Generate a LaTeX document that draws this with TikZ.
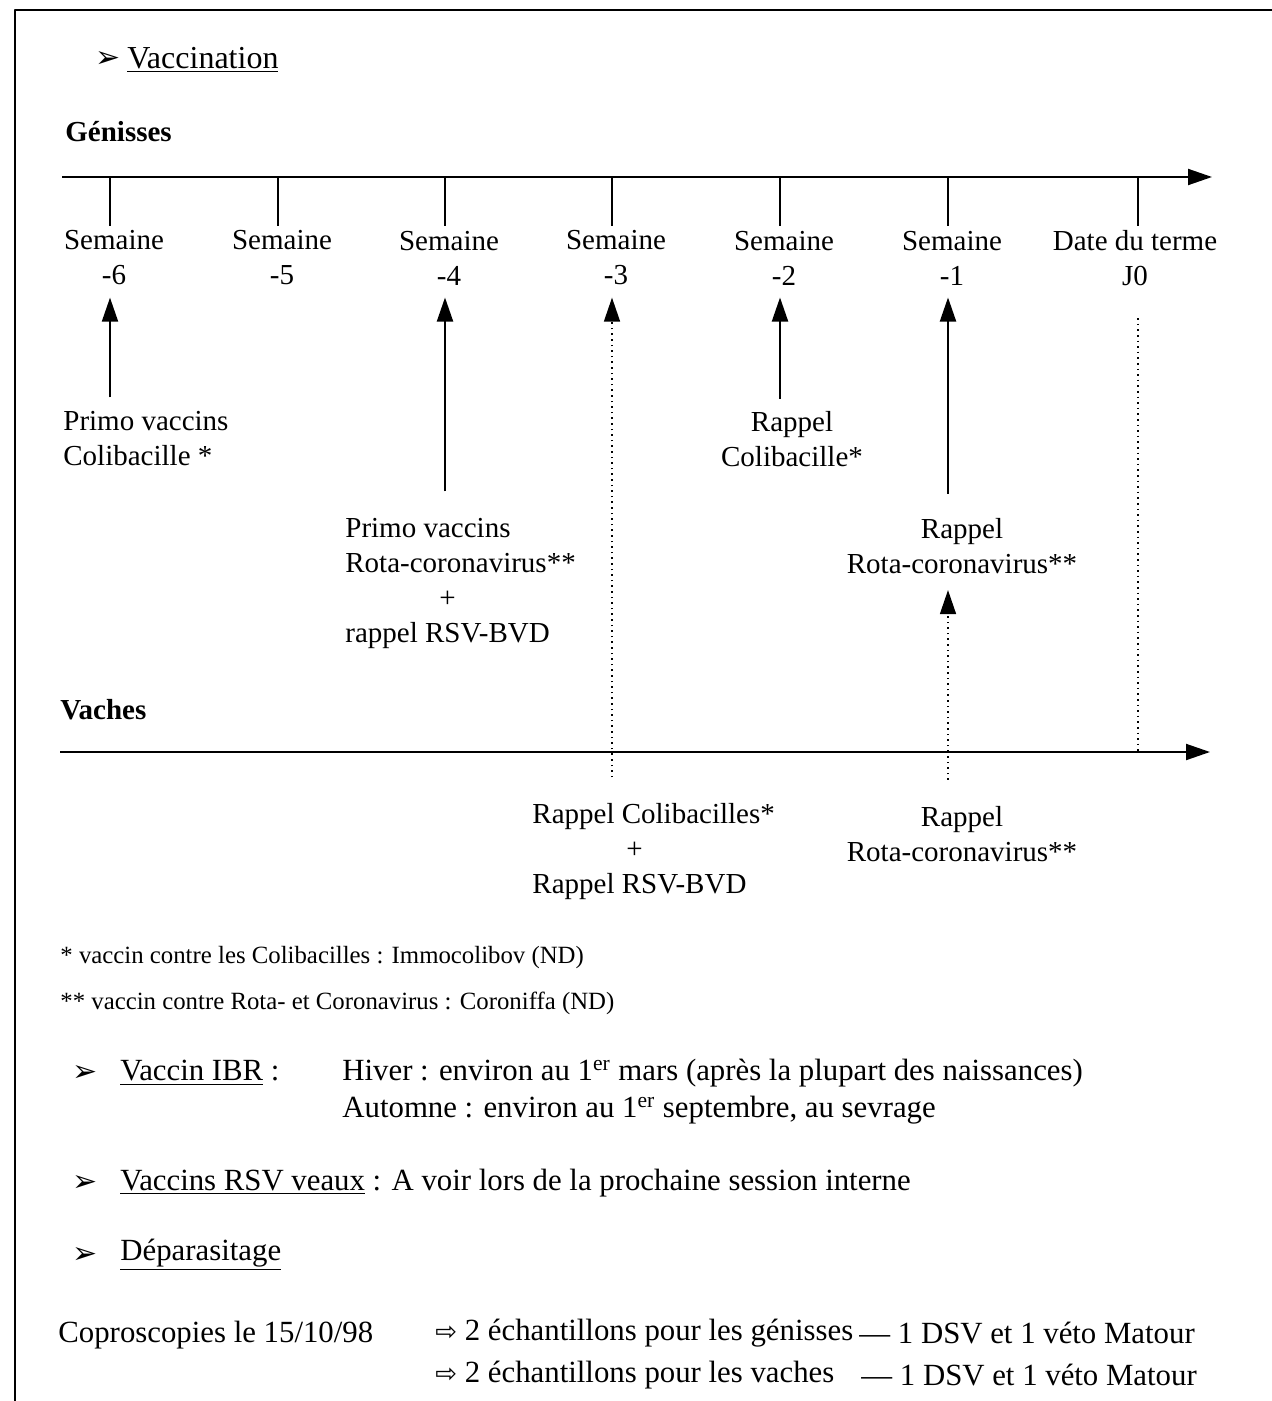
\documentclass[tikz,border=0pt]{standalone}
\usepackage{fontspec}
\setmainfont{Liberation Serif}
\newfontfamily\symbfont{DejaVu Sans}
\usetikzlibrary{arrows.meta}
\newcommand{\puce}{{\symbfont\fontsize{15}{17}\selectfont ➢}}
\newcommand{\fleche}{{\symbfont\fontsize{13}{15}\selectfont ⇨}}

\begin{document}
\begin{tikzpicture}[x=0.5pt, y=-0.5pt, line join=round,
    >={Triangle[width=8pt,length=12pt]},
    every node/.style={inner sep=0pt, font=\fontsize{14.5}{17.5}\selectfont},
    head/.style={anchor=west, font=\fontsize{14.5}{17.5}\selectfont\bfseries},
    small/.style={anchor=west, font=\fontsize{12.4}{14}\selectfont},
    big/.style={anchor=west, font=\fontsize{15.4}{18.5}\selectfont},
    week/.style={align=center},
    vacc/.style={->, line width=1pt},
    rappel/.style={->, line width=0.8pt, dotted}]
  \useasboundingbox (0,0) rectangle (1272,1401);
  % cadre
  \draw[line width=1.2pt] (15,1401) -- (15,10) -- (1272,10);
  % titre
  \node (b0) at (108,60) {\puce};
  \node[anchor=west, font=\fontsize{16}{19}\selectfont] (vac) at (127,60) {\underline{Vaccination}};
  \node[head] (gen) at (65,132) {Génisses};
  \node[head] (vach) at (60,710) {Vaches};
  % axes
  \coordinate (g0) at (62,177); \coordinate (g1) at (1212,177);
  \coordinate (v0) at (60,752); \coordinate (v1) at (1210,752);
  \draw[vacc] (g0) -- (g1);
  \draw[vacc] (v0) -- (v1);
  % semaines
  \foreach \n/\x in {6/110,5/278,4/445,3/612,2/780,1/948}{
    \coordinate (t\n) at (\x,177);
    \node[week] (w\n) at (\x+4,258) {Semaine\\-\n};
    \draw[line width=1pt] (t\n) -- ([yshift=2pt]t\n |- w\n.north);
  }
  \coordinate (t0) at (1138,177);
  \node[week] (w0) at (1135,258) {Date du terme\\J0};
  \draw[line width=1pt] (t0) -- ([yshift=2pt]t0 |- w0.north);
  % genisses
  \node[anchor=west, align=left] (pc6) at (63,439) {Primo vaccins\\Colibacille *};
  \node[anchor=west, align=left] (p4) at (345,583) {Primo vaccins\\Rota-coronavirus**\\\hspace*{47pt}+\\rappel RSV-BVD};
  \node[week] (r2) at (792,439) {Rappel\\Colibacille*};
  \node[week] (r1) at (962,546) {Rappel\\Rota-coronavirus**};
  \draw[vacc, shorten <=7pt, shorten >=6pt] (pc6.north -| t6) -- (t6 |- w6.south);
  \draw[vacc, shorten <=13pt, shorten >=6pt] (p4.north -| t4) -- (t4 |- w4.south);
  \draw[vacc, shorten <=6pt, shorten >=6pt] (r2.north -| t2) -- (t2 |- w2.south);
  \draw[vacc, shorten <=12pt, shorten >=6pt] (r1.north -| t1) -- (t1 |- w1.south);
  % vaches
  \node[anchor=west, align=left] (c3) at (532,852) {Rappel Colibacilles*\\\hspace*{47pt}+\\Rappel RSV-BVD};
  \node[week] (c1) at (962,834) {Rappel\\Rota-coronavirus**};
  \draw[rappel, shorten <=13pt, shorten >=6pt] (c3.north -| t3) -- (t3 |- w3.south);
  \draw[rappel, shorten <=13pt, shorten >=8pt] (c1.north -| t1) -- (t1 |- r1.south);
  \draw[line width=0.8pt, dotted, shorten <=16pt] (t0 |- w0.south) -- (t0 |- v0);
  % notes
  \node[small] (n1) at (60,958) {* vaccin contre les Colibacilles : Immocolibov (ND)};
  \node[small] (n2) at (60,1003) {** vaccin contre Rota- et Coronavirus : Coroniffa (ND)};
  % autres vaccins
  \node (b1) at (85,1073) {\puce};
  \node[big] (ibr) at (120,1073) {\underline{Vaccin IBR} :};
  \node[big, align=left] (ibrtxt) at (342,1092) {Hiver : environ au 1\textsuperscript{er} mars (après la plupart des naissances)\\Automne : environ au 1\textsuperscript{er} septembre, au sevrage};
  \node (b2) at (85,1183) {\puce};
  \node[big] (rsv) at (120,1183) {\underline{Vaccins RSV veaux} : A voir lors de la prochaine session interne};
  \node (b3) at (85,1255) {\puce};
  \node[big] (dep) at (120,1255) {\underline{Déparasitage}};
  % coproscopies
  \node[big] (copro) at (58,1335) {Coproscopies le 15/10/98};
  \node[big] (ech1) at (435,1333) {\fleche\ 2 échantillons pour les génisses};
  \node[big] (ech2) at (435,1375) {\fleche\ 2 échantillons pour les vaches};
  \node[big] (dsv1) at (859,1333) {--- 1 DSV et 1 véto Matour};
  \node[big] (dsv2) at (861,1375) {--- 1 DSV et 1 véto Matour};
\end{tikzpicture}
\end{document}
